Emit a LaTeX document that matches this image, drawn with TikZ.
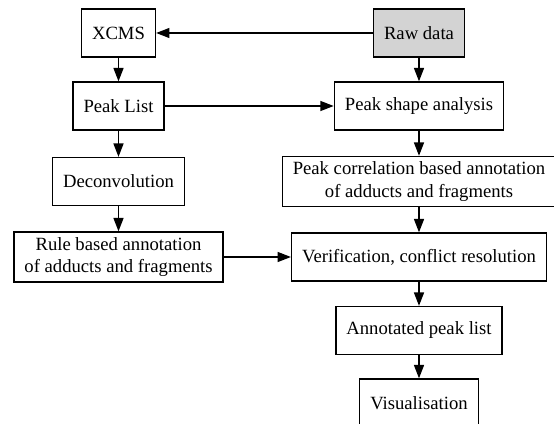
\documentclass[tikz,border=0pt]{standalone}
\usepackage{fontspec}
\setmainfont{Liberation Serif}
\usetikzlibrary{arrows.meta,positioning}
\definecolor{rawgray}{RGB}{211,211,211}

\begin{document}
\begin{tikzpicture}
[x=0.75pt,y=-0.75pt,
procbox/.style={shape=rectangle,draw=black,line width=1pt,align=center,
  inner xsep=7.9pt,inner ysep=4pt,minimum height=36pt,minimum width=54pt,
  font=\fontsize{14}{16.8}\selectfont},
myedge/.style={line width=1pt,-{Triangle[length=10pt,width=7.5pt]}}]
\useasboundingbox (0,0) rectangle (554,424);
%% left column
\node (xcms) [procbox] at (118.5,33) {XCMS};
\node (plist) [procbox] at (118.5,106) {Peak List};
\node (deconv) [procbox] at (118.5,181.5) {Deconvolution};
\node (rules) [procbox] at (118.5,257) {Rule based annotation\\of adducts and fragments};
%% right column
\node (raw) [procbox,fill=rawgray] at (419,33) {Raw data};
\node (shape) [procbox] at (419,106) {Peak shape analysis};
\node (corr) [procbox] at (419,181.5) {Peak correlation based annotation\\of adducts and fragments};
\node (verif) [procbox] at (419,257) {Verification, conflict resolution};
\node (annot) [procbox] at (419,330.5) {Annotated peak list};
\node (vis) [procbox] at (419,403) {Visualisation};
%%
\draw[myedge] (raw) -- (xcms);
\draw[myedge] (xcms) -- (plist);
\draw[myedge] (raw) -- (shape);
\draw[myedge] (plist) -- (shape);
\draw[myedge] (plist) -- (deconv);
\draw[myedge] (shape) -- (corr);
\draw[myedge] (deconv) -- (rules);
\draw[myedge] (corr) -- (verif);
\draw[myedge] (rules) -- (verif);
\draw[myedge] (verif) -- (annot);
\draw[myedge] (annot) -- (vis);
%%
\end{tikzpicture}
\end{document}
